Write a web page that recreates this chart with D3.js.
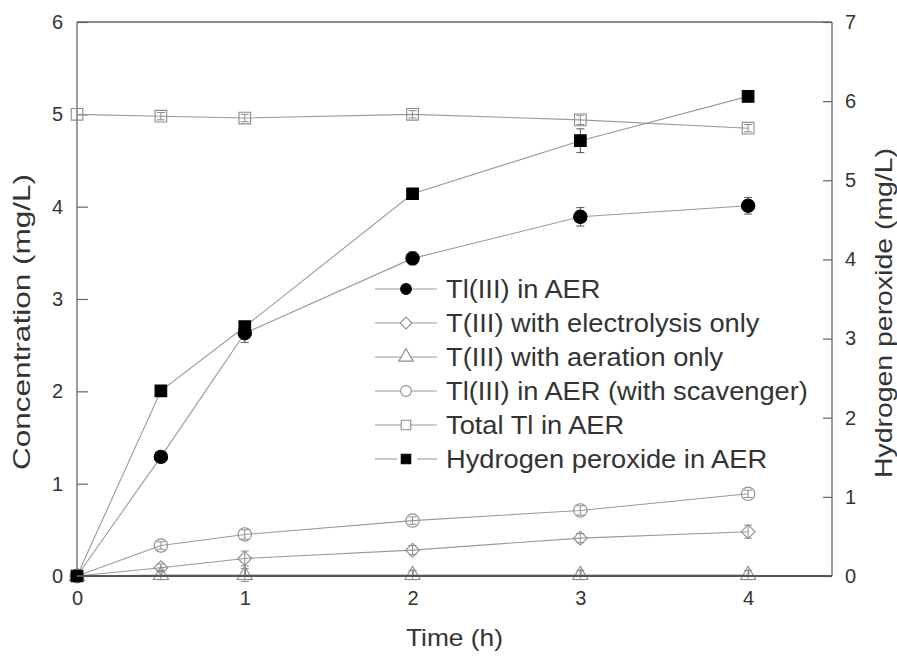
<!DOCTYPE html>
<html>
<head>
<meta charset="utf-8">
<script src="https://cdn.jsdelivr.net/npm/d3@7"></script>
<style>
  body { margin: 0; background: #fff; }
  text { font-family: Arial, "Liberation Sans", sans-serif; fill: #333; }
</style>
</head>
<body>
<div id="chart"></div>
<script>
// data
var times = [0, 0.5, 1, 2, 3, 4];
var tlAer = [0, 1.29, 2.63, 3.44, 3.89, 4.01];
var tlAerErr = [0, 0.03, 0.1, 0.07, 0.1, 0.09];
var electrolysis = [0, 0.09, 0.19, 0.28, 0.41, 0.48];
var electrolysisErr = [0, 0.04, 0.08, 0.05, 0.05, 0.07];
var aeration = [0, 0.01, 0.01, 0.01, 0.01, 0.01];
var aerationErr = [0, 0.05, 0.07, 0.05, 0.05, 0.05];
var scavenger = [0, 0.33, 0.45, 0.6, 0.71, 0.89];
var scavengerErr = [0, 0.04, 0.05, 0.04, 0.05, 0.04];
var totalTl = [5.0, 4.98, 4.96, 5.0, 4.94, 4.85];
var totalTlErr = [0, 0.04, 0.04, 0.04, 0.05, 0.04];
var h2o2 = [0, 2.34, 3.15, 4.83, 5.5, 6.06];
var h2o2Err = [0, 0.04, 0.06, 0.05, 0.15, 0.05];

var xTicks = [0, 1, 2, 3, 4];
var yTicks = [0, 1, 2, 3, 4, 5, 6];
var y2Ticks = [0, 1, 2, 3, 4, 5, 6, 7];

var series = [
  { name: "Tl(III) in AER", values: tlAer, err: tlAerErr, axis: "left", shape: "circle", filled: true },
  { name: "T(III) with electrolysis only", values: electrolysis, err: electrolysisErr, axis: "left", shape: "diamond", filled: false },
  { name: "T(III) with aeration only", values: aeration, err: aerationErr, axis: "left", shape: "triangle", filled: false },
  { name: "Tl(III) in AER (with scavenger)", values: scavenger, err: scavengerErr, axis: "left", shape: "circle", filled: false },
  { name: "Total Tl in AER", values: totalTl, err: totalTlErr, axis: "left", shape: "square", filled: false },
  { name: "Hydrogen peroxide in AER", values: h2o2, err: h2o2Err, axis: "right", shape: "square", filled: true }
];

var margin = { top: 22, right: 65, bottom: 88, left: 77 };
var width = 897 - margin.left - margin.right,
  height = 664 - margin.top - margin.bottom;

var svg = d3.select("#chart").append("svg")
  .attr("width", 897)
  .attr("height", 664)
  .append("g")
  .attr("transform", "translate(" + margin.left + "," + margin.top + ")");

var x = d3.scaleLinear().domain([0, 4.5]).range([0, width]);
var y = d3.scaleLinear().domain([0, 6]).range([height, 0]);
var y2 = d3.scaleLinear().domain([0, 7]).range([height, 0]);

var axisColor = "#666";

// axes
var xAxis = d3.axisBottom(x).tickValues(xTicks).tickFormat(d3.format("d")).tickSizeInner(-7).tickSizeOuter(0).tickPadding(15);
var yAxis = d3.axisLeft(y).tickValues(yTicks).tickFormat(d3.format("d")).tickSizeInner(-11).tickSizeOuter(0).tickPadding(14);
var y2Axis = d3.axisRight(y2).tickValues(y2Ticks).tickFormat(d3.format("d")).tickSizeInner(-9).tickSizeOuter(0).tickPadding(13);

function styleAxis(g) {
  g.select(".domain").remove();
  g.selectAll(".tick line").attr("stroke", axisColor).attr("stroke-width", 1.2);
  g.selectAll(".tick text").attr("font-size", 20).attr("fill", "#333")
    .style("font-family", "Arial, 'Liberation Sans', sans-serif");
}

svg.append("g").attr("class", "x-axis").attr("transform", "translate(0," + height + ")").call(xAxis).call(styleAxis);
svg.append("g").attr("class", "y-axis").call(yAxis).call(styleAxis);
svg.append("g").attr("class", "y2-axis").attr("transform", "translate(" + width + ",0)").call(y2Axis).call(styleAxis);

// frame: left, right, top
svg.append("line").attr("x1", 0).attr("x2", 0).attr("y1", 0).attr("y2", height).attr("stroke", axisColor).attr("stroke-width", 1.3);
svg.append("line").attr("x1", width).attr("x2", width).attr("y1", 0).attr("y2", height).attr("stroke", axisColor).attr("stroke-width", 1.3);
svg.append("line").attr("x1", 0).attr("x2", width).attr("y1", 0).attr("y2", 0).attr("stroke", axisColor).attr("stroke-width", 1.3);

// axis titles
svg.append("text")
  .attr("x", x(2.25)).attr("y", height + 70)
  .attr("text-anchor", "middle").attr("font-size", 24)
  .attr("textLength", 97).attr("lengthAdjust", "spacingAndGlyphs")
  .text("Time (h)");
svg.append("text")
  .attr("transform", "translate(" + (-47) + "," + (y(3) + 23) + ") rotate(-90)")
  .attr("text-anchor", "middle").attr("font-size", 24)
  .attr("textLength", 296).attr("lengthAdjust", "spacingAndGlyphs")
  .text("Concentration (mg/L)");
svg.append("text")
  .attr("transform", "translate(" + (width + 60) + "," + (y(3) + 14) + ") rotate(-90)")
  .attr("text-anchor", "middle").attr("font-size", 24)
  .attr("textLength", 330).attr("lengthAdjust", "spacingAndGlyphs")
  .text("Hydrogen peroxide (mg/L)");

function symbolFor(s, size) {
  var type = s.shape === "circle" ? d3.symbolCircle :
    s.shape === "triangle" ? d3.symbolTriangle : d3.symbolSquare;
  return d3.symbol().type(type).size(size)();
}

var lineColor = "#9a9a9a";
var openColor = "#8c8c8c";

series.forEach(function (s) {
  var yy = s.axis === "left" ? y : y2;
  var pts = times.map(function (t, i) { return { t: t, v: s.values[i], e: s.err[i] }; });
  var line = d3.line().x(function (d) { return x(d.t); }).y(function (d) { return yy(d.v); });

  svg.append("path").datum(pts)
    .attr("d", line)
    .attr("fill", "none")
    .attr("stroke", lineColor)
    .attr("stroke-width", 1.1);

  var errCol = s.filled ? "#555" : openColor;
  var g = svg.append("g");
  g.selectAll(".err").data(pts.filter(function (d) { return d.e > 0; }))
    .enter().append("path")
    .attr("class", "err")
    .attr("d", function (d) {
      var cx = x(d.t), t = yy(d.v + d.e), b = yy(d.v - d.e);
      return "M" + (cx - 4) + "," + t + "H" + (cx + 4) + "M" + cx + "," + t + "V" + b + "M" + (cx - 4) + "," + b + "H" + (cx + 4);
    })
    .attr("stroke", errCol).attr("stroke-width", 1).attr("fill", "none");

  var size = s.shape === "circle" ? 140 : s.shape === "triangle" ? 100 : s.shape === "diamond" ? 95 : 135;
  g.selectAll(".mark").data(pts)
    .enter().append("path")
    .attr("class", "mark")
    .attr("d", symbolFor(s, size))
    .attr("transform", function (d) {
      return "translate(" + x(d.t) + "," + yy(d.v) + ")" + (s.shape === "diamond" ? " rotate(45)" : "");
    })
    .attr("fill", s.filled ? "#000" : "none")
    .attr("stroke", s.filled ? "#000" : openColor)
    .attr("stroke-width", 1.1);
});

// bottom axis line drawn on top of marks
svg.append("line").attr("x1", 0).attr("x2", width).attr("y1", height).attr("y2", height).attr("stroke", "#555").attr("stroke-width", 2.2);

// legend
var legend = svg.append("g").attr("transform", "translate(" + (375 - margin.left) + "," + (289 - margin.top) + ")");
series.forEach(function (s, i) {
  var row = legend.append("g").attr("transform", "translate(0," + (i * 34) + ")");
  if (s.shape === "square" && s.filled) {
    row.append("line").attr("x1", 0).attr("x2", 22).attr("y1", 0).attr("y2", 0).attr("stroke", lineColor).attr("stroke-width", 1.1);
    row.append("line").attr("x1", 42).attr("x2", 62).attr("y1", 0).attr("y2", 0).attr("stroke", lineColor).attr("stroke-width", 1.1);
  } else {
    row.append("line").attr("x1", 0).attr("x2", 62).attr("y1", 0).attr("y2", 0).attr("stroke", lineColor).attr("stroke-width", 1.1);
  }
  var lsize = s.shape === "circle" ? 90 : s.shape === "triangle" ? 90 : s.shape === "diamond" ? 70 : 90;
  row.append("path")
    .attr("d", symbolFor(s, lsize))
    .attr("transform", "translate(31,0)" + (s.shape === "diamond" ? " rotate(45)" : ""))
    .attr("fill", s.filled ? "#000" : "#fff")
    .attr("stroke", s.filled ? "#000" : openColor)
    .attr("stroke-width", 1.1);
  var label = row.append("text")
    .attr("x", 71).attr("y", 9)
    .attr("font-size", 25)
    .text(s.name);
  // the reference lettering is wider than Arial, stretch to match
  var w = label.node().getComputedTextLength();
  label.attr("textLength", w * 1.09).attr("lengthAdjust", "spacingAndGlyphs");
});
</script>
</body>
</html>
